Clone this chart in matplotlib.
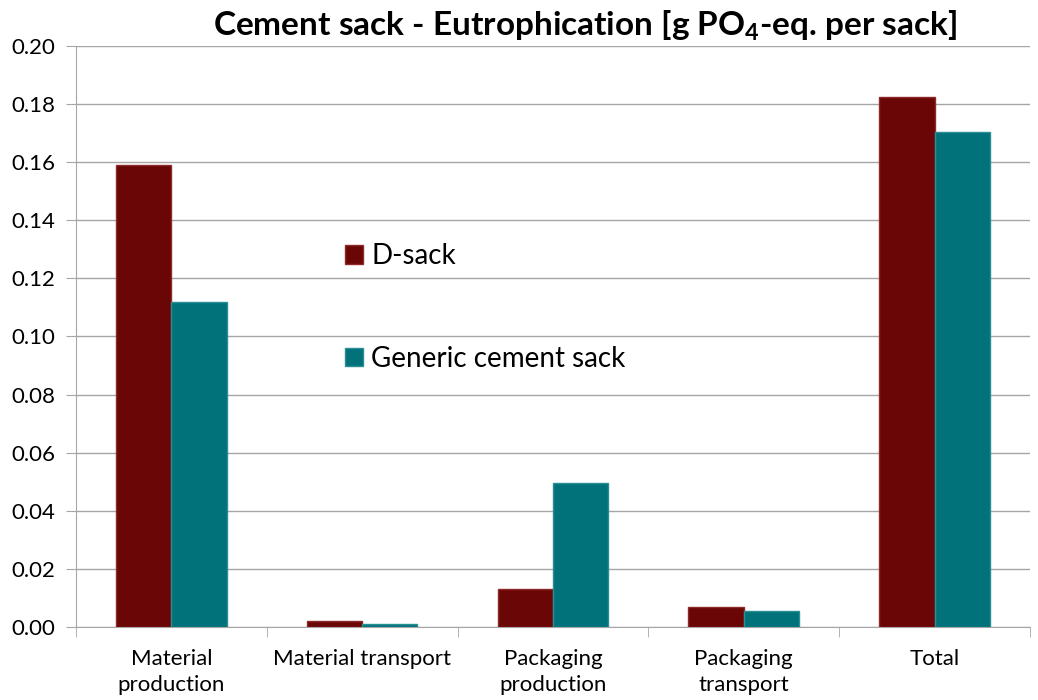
import numpy as np
import matplotlib
matplotlib.use('Agg')
import matplotlib.pyplot as plt

plt.rcParams['font.family'] = ['Lato', 'DejaVu Sans']
plt.rcParams['mathtext.fontset'] = 'custom'
plt.rcParams['mathtext.rm'] = 'Lato'
plt.rcParams['mathtext.bf'] = 'Lato:bold'

categories = ['Material\nproduction', 'Material transport', 'Packaging\nproduction',
              'Packaging\ntransport', 'Total']
d_sack = [0.159, 0.0021, 0.0131, 0.0069, 0.1824]
generic = [0.112, 0.0012, 0.0496, 0.0055, 0.1704]
y_ticks = [0.00, 0.02, 0.04, 0.06, 0.08, 0.10, 0.12, 0.14, 0.16, 0.18, 0.20]

fig = plt.figure(figsize=(10.38, 7), dpi=100)
ax = fig.add_axes([0.0732, 0.1043, 0.919, 0.830])

x = np.arange(len(categories))
w = 0.29
ax.bar(x - w / 2, d_sack, w, color='#6B0606', edgecolor='#8E2A2A', linewidth=1,
       label='D-sack', zorder=3)
ax.bar(x + w / 2, generic, w, color='#01727A', edgecolor='#2A8E95', linewidth=1,
       label='Generic cement sack', zorder=3)

ax.set_xlim(-0.5, len(categories) - 0.5)
ax.set_ylim(0, 0.20)
ax.set_yticks(y_ticks)
ax.set_yticklabels([f'{v:.2f}' for v in y_ticks], fontsize=16)
ax.yaxis.grid(True, color='#A6A6A6', linewidth=1, zorder=0)
ax.set_axisbelow(True)

ax.set_xticks(x)
ax.set_xticklabels(categories, fontsize=16, linespacing=1.35)
ax.set_xticks(np.arange(len(categories) + 1) - 0.5, minor=True)
ax.tick_params(axis='x', which='major', length=0, pad=16)
ax.tick_params(axis='x', which='minor', length=7, color='#A6A6A6')
ax.tick_params(axis='y', length=7, color='#A6A6A6', pad=8)

for s in ['top', 'right']:
    ax.spines[s].set_visible(False)
for s in ['left', 'bottom']:
    ax.spines[s].set_color('#A6A6A6')

ax.set_title(r'Cement sack - Eutrophication [g PO$_\mathbf{4}$-eq. per sack]',
             fontsize=24, fontweight='bold', pad=8, x=0.534)

ax.legend(loc='upper left', bbox_to_anchor=(0.308, 0.688), bbox_transform=fig.transFigure,
          frameon=False, fontsize=20, labelspacing=2.75, handlelength=0.65,
          handleheight=0.65, handletextpad=0.3)

fig.savefig('out.png', dpi=100)
